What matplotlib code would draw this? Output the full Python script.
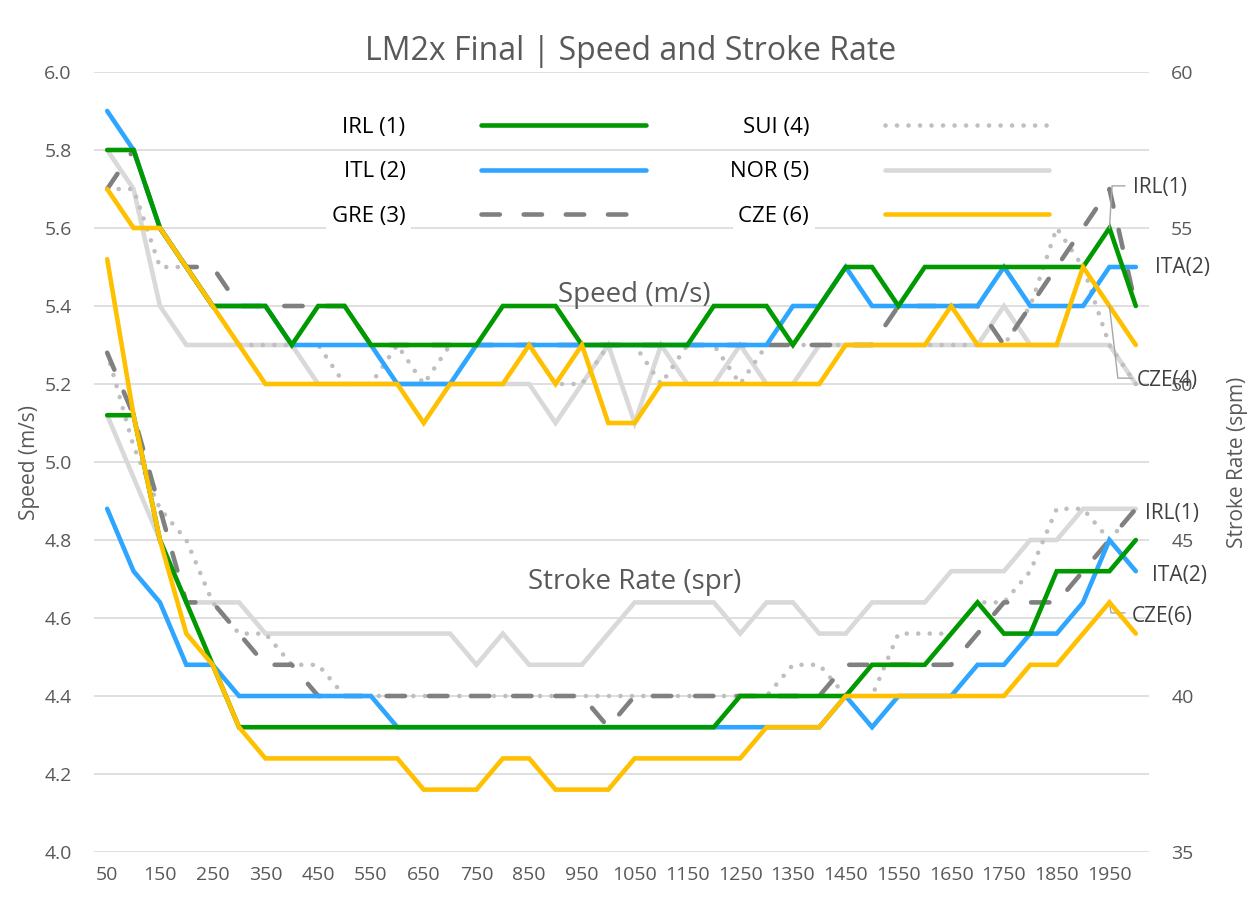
import matplotlib
matplotlib.use("Agg")
import matplotlib.pyplot as plt
from matplotlib import font_manager

# ---------------- data ----------------
distance = list(range(50, 2001, 50))
tick_labels = [str(d) for d in range(50, 2000, 100)]

irl_speed = [5.8,5.8,5.6,5.5,5.4,5.4,5.4,5.3,5.4,5.4, 5.3,5.3,5.3,5.3,5.3,5.4,5.4,5.4,5.3,5.3,
             5.3,5.3,5.3,5.4,5.4,5.4,5.3,5.4,5.5,5.5, 5.4,5.5,5.5,5.5,5.5,5.5,5.5,5.5,5.6,5.4]
itl_speed = [5.9,5.8,5.6,5.5,5.4,5.4,5.4,5.3,5.3,5.3, 5.3,5.2,5.2,5.2,5.3,5.3,5.3,5.3,5.3,5.3,
             5.3,5.3,5.3,5.3,5.3,5.3,5.4,5.4,5.5,5.4, 5.4,5.4,5.4,5.4,5.5,5.4,5.4,5.4,5.5,5.5]
gre_speed = [5.7,5.8,5.6,5.5,5.5,5.4,5.4,5.4,5.4,5.4, 5.3,5.3,5.3,5.3,5.3,5.3,5.3,5.3,5.3,5.3,
             5.3,5.3,5.3,5.3,5.3,5.3,5.3,5.3,5.3,5.3, 5.4,5.4,5.4,5.4,5.3,5.4,5.5,5.6,5.7,5.4]
sui_speed = [5.7,5.7,5.5,5.5,5.4,5.3,5.3,5.3,5.3,5.2, 5.2,5.3,5.2,5.3,5.3,5.3,5.3,5.2,5.2,5.3,
             5.3,5.2,5.3,5.3,5.2,5.3,5.3,5.3,5.3,5.3, 5.3,5.3,5.3,5.3,5.3,5.4,5.6,5.5,5.3,5.2]
nor_speed = [5.8,5.7,5.4,5.3,5.3,5.3,5.3,5.3,5.2,5.2, 5.2,5.2,5.2,5.2,5.2,5.2,5.2,5.1,5.2,5.3,
             5.1,5.3,5.2,5.2,5.3,5.2,5.2,5.3,5.3,5.3, 5.3,5.3,5.3,5.3,5.4,5.3,5.3,5.3,5.3,5.2]
cze_speed = [5.7,5.6,5.6,5.5,5.4,5.3,5.2,5.2,5.2,5.2, 5.2,5.2,5.1,5.2,5.2,5.2,5.3,5.2,5.3,5.1,
             5.1,5.2,5.2,5.2,5.2,5.2,5.2,5.2,5.3,5.3, 5.3,5.3,5.4,5.3,5.3,5.3,5.3,5.5,5.4,5.3]

irl_rate = [49,49,45,43,41,39,39,39,39,39, 39,39,39,39,39,39,39,39,39,39,
            39,39,39,39,40,40,40,40,40,41, 41,41,42,43,42,42,44,44,44,45]
itl_rate = [46,44,43,41,41,40,40,40,40,40, 40,39,39,39,39,39,39,39,39,39,
            39,39,39,39,39,39,39,39,40,39, 40,40,40,41,41,42,42,43,45,44]
gre_rate = [51,49,46,43,43,42,41,41,40,40, 40,40,40,40,40,40,40,40,40,39,
            40,40,40,40,40,40,40,40,41,41, 41,41,41,42,43,43,43,44,45,46]
sui_rate = [51,48,46,45,43,42,42,41,41,40, 40,40,40,40,40,40,40,40,40,40,
            40,40,40,40,40,40,41,41,40,40, 42,42,42,43,43,44,46,46,45,46]
nor_rate = [49,47,45,43,43,43,42,42,42,42, 42,42,42,42,41,42,41,41,41,42,
            43,43,43,43,42,43,43,42,42,43, 43,43,44,44,44,45,45,46,46,46]
cze_rate = [54,49,45,42,41,39,38,38,38,38, 38,38,37,37,37,38,38,37,37,37,
            38,38,38,38,38,39,39,39,40,40, 40,40,40,40,40,41,41,42,43,42]

crews = ["IRL (1)", "ITL (2)", "GRE (3)", "SUI (4)", "NOR (5)", "CZE (6)"]
speeds = [irl_speed, itl_speed, gre_speed, sui_speed, nor_speed, cze_speed]
rates = [irl_rate, itl_rate, gre_rate, sui_rate, nor_rate, cze_rate]

# ---------------- styles ----------------
colors = ["#009900", "#2EA6FF", "#808080", "#BFBFBF", "#D9D9D9", "#FFC000"]
zorders = [5, 4, 3, 2, 1, 6]
LW = 3.3

names = {f.name for f in font_manager.fontManager.ttflist}
MAIN = "Open Sans" if "Open Sans" in names else "DejaVu Sans"
NARROW = "Liberation Sans Narrow" if "Liberation Sans Narrow" in names else MAIN
plt.rcParams["font.family"] = [MAIN, "DejaVu Sans"]
TXT = "#595959"

W, H = 1253, 906
fig = plt.figure(figsize=(W / 100, H / 100), dpi=100)
L, R, T, B = 94, 1149, 72, 852
ax = fig.add_axes([L / W, 1 - B / H, (R - L) / W, (B - T) / H])
ax2 = ax.twinx()


def style_for(i):
    kw = dict(color=colors[i], lw=LW, zorder=zorders[i], solid_capstyle="round",
              solid_joinstyle="miter")
    if i == 2:
        kw.update(linestyle=(0, (4.0, 5.2)), dash_capstyle="round")
    elif i == 3:
        kw.update(linestyle=(0, (0.01, 2.5)), dash_capstyle="round")
    return kw


handles = []
for i in range(6):
    h, = ax.plot(distance, speeds[i], label=crews[i], **style_for(i))
    handles.append(h)
    ax2.plot(distance, rates[i], **style_for(i))

ax.set_xlim(25, 2025)
ax.set_ylim(4.0, 6.0)
ax2.set_ylim(35, 60)
ax.set_yticks([4.0 + 0.2 * k for k in range(11)])
ax.set_yticklabels([f"{4.0 + 0.2 * k:.1f}" for k in range(11)])
ax2.set_yticks(list(range(35, 61, 5)))
ax.set_xticks(list(range(50, 2000, 100)))
ax.set_xticklabels(tick_labels)

ax.grid(axis="y", color="#D9D9D9", lw=1.2)
ax.set_axisbelow(True)
for a in (ax, ax2):
    for s in a.spines.values():
        s.set_visible(False)
ax.tick_params(axis="x", length=0, pad=10, labelsize=14, labelcolor=TXT)
ax.tick_params(axis="y", length=0, pad=16, labelsize=14, labelcolor=TXT)
ax2.tick_params(axis="y", length=0, pad=16, labelsize=14, labelcolor=TXT)

# titles
fig.text(631 / W, 1 - 51 / H, "LM2x Final | Speed and Stroke Rate", ha="center",
         va="center", fontsize=23, color=TXT)
fig.text(30 / W, 1 - 462 / H, "Speed (m/s)", rotation=90, ha="center", va="center",
         fontsize=15, color=TXT, family=[NARROW, "DejaVu Sans"])
fig.text(1237 / W, 1 - 462 / H, "Stroke Rate (spm)", rotation=90, ha="center",
         va="center", fontsize=15, color=TXT, family=[NARROW, "DejaVu Sans"])

ax.text(1050, 5.427, "Speed (m/s)", ha="center", va="center", fontsize=20, color=TXT)
ax.text(1050, 4.692, "Stroke Rate (spr)", ha="center", va="center", fontsize=20, color=TXT)

# data labels with leader lines
lab = dict(fontsize=15, color="#404040", va="center", ha="left", clip_on=False)
ax.text(1995, 5.705, "IRL(1)", **lab)
ax.text(2036, 5.50, "ITA(2)", **lab)
ax.text(2002, 5.21, "CZE(4)", **lab)
ax.text(2017, 4.869, "IRL(1)", **lab)
ax.text(2031, 4.710, "ITA(2)", **lab)
ax.text(1993, 4.605, "CZE(6)", **lab)
lead = dict(color="#A6A6A6", lw=1, clip_on=False, zorder=7)
ax.plot([1979, 1955, 1950], [5.708, 5.708, 5.60], **lead)
ax.plot([1993, 1966, 1950], [5.215, 5.215, 5.40], **lead)
ax.plot([1950, 1953, 1979], [4.64, 4.613, 4.613], **lead)

# legend (text first, sample line after)
leg = ax.legend(handles=handles, ncol=2, markerfirst=False, loc="upper left",
                bbox_to_anchor=(332 / W, 1 - 117 / H), bbox_transform=fig.transFigure,
                frameon=False, borderaxespad=0, borderpad=0,
                handlelength=7.4, handletextpad=3.4, columnspacing=3.8,
                labelspacing=1.05, prop={"family": [NARROW, "DejaVu Sans"], "size": 16})
for t in leg.get_texts():
    t.set_color("#000000")
    t.set_bbox(dict(facecolor="white", edgecolor="none", pad=4))
leg.set_zorder(10)

fig.savefig("out.png", dpi=100)
